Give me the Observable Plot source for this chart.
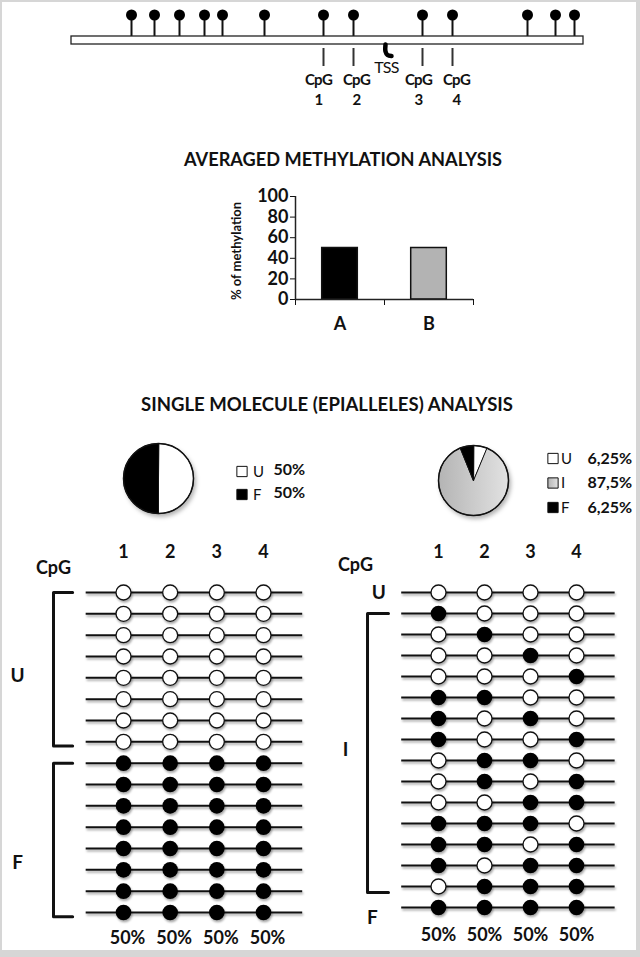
<!DOCTYPE html>
<html>
<head>
<meta charset="utf-8">
<script src="https://cdn.jsdelivr.net/npm/d3@7"></script>
<script src="https://cdn.jsdelivr.net/npm/@observablehq/plot@0.6"></script>
<style>
html,body{margin:0;padding:0;background:#d6d6d6;}
#page{position:relative;width:640px;height:957px;overflow:hidden;background:#d6d6d6;font-family:Lato,"Open Sans",sans-serif;color:#111;}
#panel{position:absolute;left:2px;top:2px;width:634px;height:948px;background:#fff;}
.layer{position:absolute;}
.layer svg{display:block;overflow:visible;background:transparent;}
#gene text{letter-spacing:-0.7px;}
#gridL g[aria-label="rule"], #gridL g[aria-label="dot"],
#gridR g[aria-label="rule"], #gridR g[aria-label="dot"]{filter:drop-shadow(1px 2px 1.2px rgba(0,0,0,0.35));}
#pies g[aria-label="line"]{filter:drop-shadow(2px 3px 2px rgba(0,0,0,0.3));}
</style>
</head>
<body>
<div id="page">
  <div id="panel"></div>
  <svg width="0" height="0" style="position:absolute;left:0;top:0">
    <defs>
      <linearGradient id="gradI" x1="0" y1="0" x2="1" y2="0">
        <stop offset="0" stop-color="#b4b4b4"/>
        <stop offset="1" stop-color="#e2e2e2"/>
      </linearGradient>
    </defs>
  </svg>
  <div id="gene" class="layer" style="left:0;top:0"></div>
  <div id="bars" class="layer" style="left:0;top:170px"></div>
  <div id="pies" class="layer" style="left:0;top:430px"></div>
  <div id="gridL" class="layer" style="left:0;top:530px"></div>
  <div id="gridR" class="layer" style="left:320px;top:530px"></div>
  <svg class="layer" style="left:0;top:0;pointer-events:none" width="640" height="957">
    <text x="343" y="166" text-anchor="middle" font-family="Lato, sans-serif" font-size="19.5" font-weight="bold" fill="#111" textLength="318" lengthAdjust="spacingAndGlyphs">AVERAGED METHYLATION ANALYSIS</text>
    <text x="327" y="411" text-anchor="middle" font-family="Lato, sans-serif" font-size="19.5" font-weight="bold" fill="#111" textLength="372" lengthAdjust="spacingAndGlyphs">SINGLE MOLECULE (EPIALLELES) ANALYSIS</text>
  </svg>
</div>
<script>
// ---------------- DATA ----------------
// gene region (relative units) and CpG sites
const geneLength = 512;
const cpgSites = [60, 83, 108, 133, 151, 193, 252, 282, 351, 381, 456, 484, 503];
const analyzedSites = [252, 282, 351, 381];
const analyzedNames = ["1", "2", "3", "4"];
const tssSite = 314;

// averaged methylation
const barLabels = ["A", "B"];
const barValues = [50, 50];
const yTicks = [0, 20, 40, 60, 80, 100];

// epiallele pies
const pieLeftClasses = ["U", "F"];
const pieLeftValues = [50, 50];
const pieLeftLabels = ["50%", "50%"];
const pieRightClasses = ["U", "I", "F"];
const pieRightValues = [6.25, 87.5, 6.25];
const pieRightLabels = ["6,25%", "87,5%", "6,25%"];

// single molecules (1 = methylated)
const cpgColumns = [1, 2, 3, 4];
const leftPatterns = ["0000", "0000", "0000", "0000", "0000", "0000", "0000", "0000",
                      "1111", "1111", "1111", "1111", "1111", "1111", "1111", "1111"];
const leftClasses = ["U", "U", "U", "U", "U", "U", "U", "U",
                     "F", "F", "F", "F", "F", "F", "F", "F"];
const rightPatterns = ["0000", "1000", "0100", "0010", "0001", "1100", "1010", "1001",
                       "0110", "0101", "0011", "1110", "1101", "1011", "0111", "1111"];
const rightClasses = ["U", "I", "I", "I", "I", "I", "I", "I",
                      "I", "I", "I", "I", "I", "I", "I", "F"];

// ---------------- STYLES / LAYOUT ----------------
const FONT = "Lato, 'Open Sans', sans-serif";
const barFill = {A: "#000000", B: "#b3b3b3"};
const classFill = {U: "#ffffff", I: "url(#gradI)", F: "#000000"};
const cpgLabelShift = [-5, 3, -4, 4]; // label nudges (px) relative to tick marks

// ---------------- GENE DIAGRAM ----------------
const tssHook = [
  {x: tssSite, y: 44}, {x: tssSite, y: 51}, {x: tssSite + 2, y: 54.5}, {x: tssSite + 6, y: 55.5}
];
const gene = Plot.plot({
  width: 640, height: 112, margin: 0,
  x: {domain: [0, geneLength], range: [71, 583], axis: null},
  y: {type: "identity", axis: null},
  style: {fontFamily: FONT, color: "#111", background: "transparent"},
  marks: [
    Plot.ruleX(cpgSites, {x: d => d, y1: 15, y2: 36, stroke: "#111", strokeWidth: 2}),
    Plot.dot(cpgSites, {x: d => d, y: 14.5, r: 5.5, fill: "#000"}),
    Plot.rect([geneLength], {x1: 0, x2: d => d, y1: 36, y2: 44, fill: "white", stroke: "#222", strokeWidth: 1.3}),
    Plot.ruleX(analyzedSites, {x: d => d, y1: 48, y2: 66, stroke: "#333", strokeWidth: 2}),
    Plot.text(analyzedSites, {x: (d, i) => d + cpgLabelShift[i], y: 80, text: () => "CpG", fontSize: 15, fontWeight: "bold"}),
    Plot.text(analyzedSites, {x: (d, i) => d + cpgLabelShift[i], y: 100, text: (d, i) => analyzedNames[i], fontSize: 15, fontWeight: "bold"}),
    Plot.line(tssHook, {x: "x", y: "y", curve: "catmull-rom", stroke: "#000", strokeWidth: 4.5, strokeLinecap: "round"}),
    Plot.text([tssSite], {x: d => d, y: 67, dx: 1, text: () => "TSS", fontSize: 16})
  ]
});
document.getElementById("gene").appendChild(gene);

// ---------------- BAR CHART ----------------
const bars = barLabels.map((label, i) => ({label, value: barValues[i], i}));
const barPlot = Plot.plot({
  width: 640, height: 165,
  marginTop: 26, marginBottom: 36, marginLeft: 295, marginRight: 167,
  x: {domain: [0, 2], ticks: [0, 1, 2], tickFormat: () => "", tickSize: 6, label: null},
  y: {domain: [0, 100], ticks: yTicks, tickSize: 5, tickPadding: 2, label: null},
  color: {type: "identity"},
  style: {fontFamily: FONT, fontSize: "18px", fontWeight: "bold", color: "#111", background: "transparent"},
  marks: [
    Plot.rect(bars, {x1: d => d.i + 0.3, x2: d => d.i + 0.7, y1: 0, y2: "value",
      fill: d => barFill[d.label], stroke: "#111", strokeWidth: 1.5}),
    Plot.ruleX([0], {y1: 0, y2: 100, stroke: "#222", strokeWidth: 1.5}),
    Plot.ruleY([0], {x1: 0, x2: 2, stroke: "#222", strokeWidth: 1.5}),
    Plot.text(bars, {x: d => d.i + 0.5, y: 0, dy: 25, text: "label", fontSize: 18, fontWeight: "bold"}),
    Plot.text(["% of methylation"], {x: 0, y: 50, dx: -59, dy: 3, rotate: -90, text: d => d, fontSize: 13, fontWeight: "bold"})
  ]
});
document.getElementById("bars").appendChild(barPlot);

// ---------------- PIES ----------------
function pieRows(prefix, classes, values, cx, cy, r) {
  const arcs = d3.pie().sort(null).value(d => d)(values);
  const rows = [];
  arcs.forEach((a, i) => {
    const key = prefix + i;
    rows.push({key, cls: classes[i], x: cx, y: cy});
    const n = Math.max(2, Math.ceil((a.endAngle - a.startAngle) / 0.03));
    for (let j = 0; j <= n; j++) {
      const t = a.startAngle + (a.endAngle - a.startAngle) * j / n;
      rows.push({key, cls: classes[i], x: cx + r * Math.sin(t), y: cy - r * Math.cos(t)});
    }
  });
  return rows;
}
const pieR = 35;
const pieCenters = [{x: 158, y: 48}, {x: 473, y: 50}];
const pieData = pieRows("L", pieLeftClasses, pieLeftValues, pieCenters[0].x, pieCenters[0].y, pieR)
  .concat(pieRows("R", pieRightClasses, pieRightValues, pieCenters[1].x, pieCenters[1].y, pieR));

const legendLeft = pieLeftClasses.map((cls, i) => ({cls, label: pieLeftLabels[i], x: 241.5, y: 41 + i * 23}));
const legendRight = pieRightClasses.map((cls, i) => ({cls, label: pieRightLabels[i], x: 552.5, y: 28 + i * 24.5}));

const piePlot = Plot.plot({
  width: 640, height: 100, margin: 0,
  x: {type: "identity", axis: null},
  y: {type: "identity", axis: null},
  color: {type: "identity"},
  style: {fontFamily: FONT, color: "#111", background: "transparent"},
  marks: [
    Plot.line(pieData, {x: "x", y: "y", z: "key", fill: d => classFill[d.cls], stroke: "#111", strokeWidth: 1, curve: "linear-closed"}),
    Plot.dot(pieCenters, {x: "x", y: "y", r: pieR, fill: "none", stroke: "#111", strokeWidth: 1.5}),
    Plot.dot(legendLeft.concat(legendRight), {x: "x", y: "y", symbol: "square", r: 5.8, fill: d => classFill[d.cls], stroke: "#111", strokeWidth: 1}),
    Plot.text(legendLeft, {x: d => d.x + 11, y: d => d.y + 1, text: "cls", textAnchor: "start", fontSize: 15}),
    Plot.text(legendLeft, {x: d => d.x + 31.5, y: d => d.y - 1.5, text: "label", textAnchor: "start", fontSize: 16, fontWeight: "bold"}),
    Plot.text(legendRight, {x: d => d.x + 8, y: d => d.y + 0.5, text: "cls", textAnchor: "start", fontSize: 15}),
    Plot.text(legendRight, {x: d => d.x + 34.5, y: d => d.y, text: "label", textAnchor: "start", fontSize: 16, fontWeight: "bold"})
  ]
});
document.getElementById("pies").appendChild(piePlot);

// ---------------- SINGLE MOLECULE GRIDS ----------------
function runs(classes) {
  const out = [];
  classes.forEach((c, i) => {
    const last = out[out.length - 1];
    if (last && last.cls === c) last.end = i; else out.push({cls: c, start: i, end: i});
  });
  return out;
}
function gridPlot(patterns, classes, layout) {
  const cells = [];
  patterns.forEach((p, row) => p.split("").forEach((c, j) => cells.push({row, col: cpgColumns[j], m: c === "1"})));
  const rows = patterns.map((p, row) => ({row, cls: classes[row]}));
  const stats = cpgColumns.map((col, j) => ({
    col, pct: Math.round(100 * d3.sum(patterns, p => p[j] === "1" ? 1 : 0) / patterns.length) + "%"
  }));
  const groups = runs(classes);
  const brackets = [];
  groups.filter(g => g.end > g.start).forEach(g => {
    brackets.push({k: g.cls, x: layout.tickX, y: g.start});
    brackets.push({k: g.cls, x: layout.barX, y: g.start});
    brackets.push({k: g.cls, x: layout.barX, y: g.end + layout.ext});
    brackets.push({k: g.cls, x: layout.tickX, y: g.end + layout.ext});
  });
  const labelMarks = groups.map(g => Plot.text([g], {
    x: layout.labels[g.cls].x, y: d => (d.start + d.end) / 2, dy: layout.labels[g.cls].dy,
    text: "cls", fontSize: 19, fontWeight: "bold"
  }));
  return Plot.plot({
    width: 320, height: 420, margin: 0,
    x: {domain: [1, 4], range: layout.xRange, axis: null},
    y: {domain: [0, patterns.length - 1], range: layout.yRange, axis: null},
    style: {fontFamily: FONT, color: "#111", background: "transparent"},
    marks: [
      Plot.ruleY(rows, {y: "row", x1: 0.2, x2: 4.84, stroke: "#111", strokeWidth: 2}),
      Plot.dot(cells, {filter: d => !d.m, x: "col", y: "row", r: 7.5, fill: "#fff", stroke: "#111", strokeWidth: 1.3}),
      Plot.dot(cells, {filter: d => d.m, x: "col", y: "row", r: 7.8, fill: "#000"}),
      Plot.line(brackets, {x: "x", y: "y", z: "k", stroke: "#111", strokeWidth: 3}),
      Plot.text(cpgColumns, {x: d => d, y: 0, dy: -40, text: d => String(d), fontSize: 18, fontWeight: "bold"}),
      Plot.text(["CpG"], {x: 1, y: 0, dx: layout.cpgDx, dy: layout.cpgDy, text: d => d, fontSize: 18, fontWeight: "bold"}),
      Plot.text(stats, {x: "col", y: patterns.length - 1, dx: layout.pctDx, dy: layout.pctDy, text: "pct", fontSize: 18, fontWeight: "bold"}),
      ...labelMarks
    ]
  });
}
const gridL = gridPlot(leftPatterns, leftClasses, {
  xRange: [123, 263], yRange: [62, 382],
  barX: -0.5, tickX: -0.09, ext: 0.2,
  cpgDx: -70, cpgDy: -24, pctDx: 4, pctDy: 26,
  labels: {U: {x: -1.27, dy: 9}, F: {x: -1.27, dy: 25}}
});
document.getElementById("gridL").appendChild(gridL);
const gridR = gridPlot(rightPatterns, rightClasses, {
  xRange: [118, 256], yRange: [62, 377],
  barX: -0.543, tickX: -0.087, ext: 0.28,
  cpgDx: -83, cpgDy: -27, pctDx: 0, pctDy: 28,
  labels: {U: {x: -0.30, dy: 0}, I: {x: -1.02, dy: 0}, F: {x: -0.435, dy: 10}}
});
document.getElementById("gridR").appendChild(gridR);
</script>
</body>
</html>
